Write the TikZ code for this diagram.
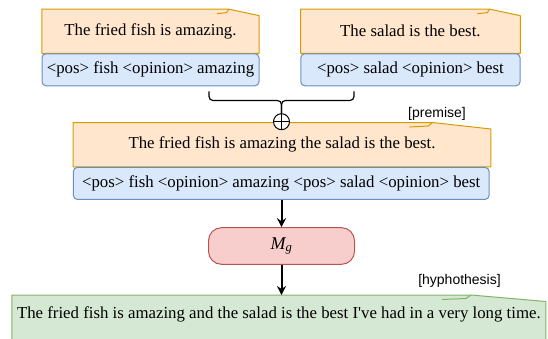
\documentclass[tikz,border=0pt]{standalone}
\usepackage{fontspec}
\setmainfont{Liberation Serif}
\setsansfont{Liberation Sans}
\usetikzlibrary{positioning,calc,backgrounds,arrows.meta}
\definecolor{orangefill}{HTML}{FFE6CC}
\definecolor{orangeline}{HTML}{D79B00}
\definecolor{bluefill}{HTML}{DAE8FC}
\definecolor{blueline}{HTML}{6C8EBF}
\definecolor{redfill}{HTML}{F8CECC}
\definecolor{redline}{HTML}{B85450}
\definecolor{greenfill}{HTML}{D5E8D4}
\definecolor{greenline}{HTML}{82B366}
% note outline with the folded corner, behind the node #1
\newcommand{\notebg}[2]{%
\begin{pgfonlayer}{background}
\filldraw[fill=#2fill, draw=#2line, line width=1pt, line join=round] (#1.south west) -- (#1.north west) -- ($(#1.north west)!.86!(#1.north east)$) -- ([yshift=-6.5pt]#1.north east) -- (#1.south east) -- cycle;
\draw[#2line, line width=1pt] ($(#1.north west)!.805!(#1.north east)+(0,4.5)$) -- ($(#1.north west)!.85!(#1.north east)+(0,3.5)$) -- ($(#1.north west)!.86!(#1.north east)$);
\end{pgfonlayer}}

\begin{document}
\begin{tikzpicture}[x=1pt, y=-1pt, font=\fontsize{16.8}{20}\selectfont,
  note/.style={inner sep=0pt},
  tag/.style={draw=blueline, fill=bluefill, line width=1pt, rounded corners=4pt, inner sep=0pt, minimum height=32pt},
  lbl/.style={font=\sffamily\fontsize{14}{16}\selectfont},
  arr/.style={-{Stealth[length=9pt,width=9pt,inset=3pt]}, line width=2pt}]
\useasboundingbox (0,0) rectangle (548,338);
\node[note, minimum width=217pt, minimum height=43.7pt] (fish) at (150.5,31.2) {The fried fish is amazing.};
\notebg{fish}{orange}
\node[tag, minimum width=217pt, below=0pt of fish] (fishtag) {<pos> fish <opinion> amazing};
\node[note, minimum width=219.3pt, minimum height=43.7pt] (salad) at (410.4,31.2) {The salad is the best.};
\notebg{salad}{orange}
\node[tag, minimum width=219.3pt, below=0pt of salad] (saladtag) {<pos> salad <opinion> best};
\node[note, minimum width=417.4pt, minimum height=44pt] (pair) at (282,144.7) {The fried fish is amazing the salad is the best.};
\notebg{pair}{orange}
\node[tag, minimum width=415.7pt, below=0pt of pair, xshift=-.8pt] (pairtag) {<pos> fish <opinion> amazing <pos> salad <opinion> best};
\node[lbl] (prem) at (437,114) {[premise]};
% join of the two inputs
\node[draw, circle, fill=white, inner sep=0pt, minimum size=16pt, line width=1pt] (plus) at (281.5,121.7) {};
\draw[line width=1pt] (plus.north) -- (plus.south) (plus.west) -- (plus.east);
\coordinate (cusp) at (281.5,100.5);
\draw[line width=1.2pt, rounded corners=4pt] ([xshift=58.5pt,yshift=-5pt]fishtag.south) |- (cusp) -- (plus.north);
\draw[line width=1.2pt, rounded corners=4pt] ([xshift=-56.4pt,yshift=-5pt]saladtag.south) |- (cusp) -- (plus.north);
\node[draw=redline, fill=redfill, line width=1pt, rounded corners=13pt, minimum width=146pt, minimum height=36.6pt] (mg) at (281.5,246) {\fontsize{18}{20}\selectfont\itshape M\textsubscript{g}};
\node[note, anchor=north, minimum width=533.7pt, text height=16pt, text depth=30pt, inner ysep=7pt] (hyp) at (278.9,295) {The fried fish is amazing and the salad is the best I\textquotesingle ve had in a very long time.};
\notebg{hyp}{green}
\node[lbl] (hyplbl) at (459.5,281) {[hyphothesis]};
\draw[arr] (pairtag.south -| mg) -- (mg);
\draw[arr] (mg) -- (mg |- hyp.north);
\end{tikzpicture}
\end{document}
